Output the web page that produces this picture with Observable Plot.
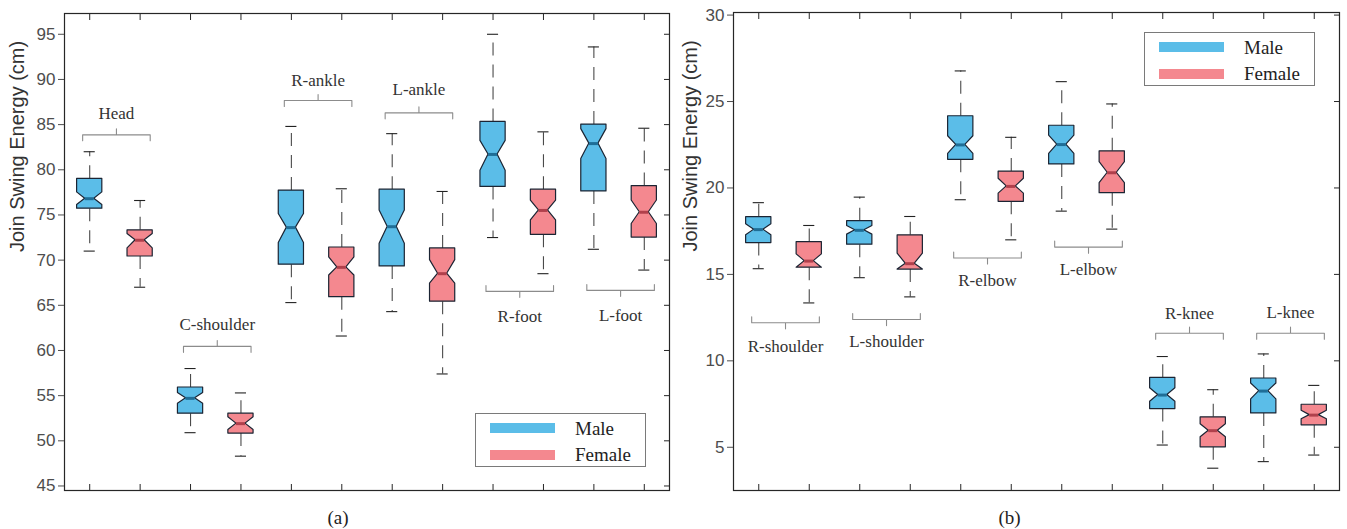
<!DOCTYPE html>
<html>
<head>
<meta charset="utf-8">
<script src="https://cdn.jsdelivr.net/npm/d3@7"></script>
<script src="https://cdn.jsdelivr.net/npm/@observablehq/plot@0.6"></script>
<style>
  body { margin: 0; background: #fff; }
  #wrap { position: relative; width: 1347px; height: 529px; overflow: hidden; }
  #wrap svg { position: absolute; top: 0; }
  .legend { position: absolute; box-sizing: border-box; width: 171px; height: 54px; border: 1px solid #7a7a7a; background: #fff; }
  .legend .sw { position: absolute; left: 14px; width: 65px; height: 10px; }
  .legend .lt { position: absolute; left: 99px; font: 19px "Liberation Serif", "Times New Roman", serif; color: #222; line-height: 20px; }
  .cap { position: absolute; top: 507px; font: 19px "Liberation Serif", "Times New Roman", serif; color: #222; text-align: center; line-height: 22px; }
</style>
</head>
<body>
<div id="wrap"></div>
<script>
// ---------- data ----------
const genders = ["Male", "Female"];
const genderFill = ["#5bbde8", "#f4888f"];
const genderMedian = ["#1f6e97", "#b0404c"];

// Panel (a)
const partsA = ["Head", "C-shoulder", "R-ankle", "L-ankle", "R-foot", "L-foot"];
const maxA = [82.0, 76.6, 58.0, 55.3, 84.8, 77.9, 84.0, 77.6, 95.0, 84.2, 93.6, 84.6];
const q3A  = [79.0, 73.3, 55.9, 53.0, 77.7, 71.4, 77.8, 71.3, 85.3, 77.8, 85.0, 78.2];
const nhiA = [77.5, 72.9, 55.3, 52.6, 75.1, 70.3, 75.5, 70.0, 83.2, 76.6, 84.5, 76.6];
const medA = [76.8, 72.2, 54.7, 51.9, 73.6, 69.2, 73.7, 68.5, 81.7, 75.5, 82.9, 75.3];
const nloA = [76.1, 71.3, 54.1, 51.2, 71.9, 68.3, 71.8, 67.4, 79.9, 74.4, 81.2, 74.0];
const q1A  = [75.7, 70.4, 53.0, 50.8, 69.5, 65.9, 69.3, 65.4, 78.1, 72.8, 77.6, 72.5];
const minA = [71.0, 67.0, 50.9, 48.3, 65.3, 61.6, 64.3, 57.4, 72.5, 68.5, 71.2, 68.9];
const bracketLevelA = [83.87, 60.45, 87.67, 86.3, 66.54, 66.65];
const labelYA = [86.28, 62.82, 89.92, 88.93, 63.74, 63.82];
const ticksA = [45, 50, 55, 60, 65, 70, 75, 80, 85, 90, 95];

// Panel (b)
const partsB = ["R-shoulder", "L-shoulder", "R-elbow", "L-elbow", "R-knee", "L-knee"];
const maxB = [19.15, 17.83, 19.47, 18.35, 26.77, 22.93, 26.15, 24.86, 10.25, 8.33, 10.4, 8.58];
const q3B  = [18.31, 16.87, 18.08, 17.26, 24.15, 20.95, 23.6, 22.12, 9.02, 6.73, 8.98, 7.46];
const nhiB = [17.9, 16.16, 17.8, 16.2, 22.99, 20.53, 23.03, 21.49, 8.41, 6.33, 8.69, 7.11];
const medB = [17.59, 15.77, 17.55, 15.62, 22.49, 20.09, 22.51, 20.88, 8.02, 5.96, 8.25, 6.86];
const nloB = [17.26, 15.39, 17.3, 15.28, 21.97, 19.67, 21.97, 20.28, 7.63, 5.58, 7.77, 6.62];
const q1B  = [16.81, 15.39, 16.72, 15.28, 21.63, 19.2, 21.36, 19.7, 7.21, 5.0, 6.96, 6.27];
const minB = [15.33, 13.35, 14.81, 13.7, 19.32, 17.0, 18.66, 17.62, 5.13, 3.79, 4.17, 4.55];
const bracketLevelB = [12.2, 12.39, 15.95, 16.58, 11.6, 11.6];
const labelYB = [10.83, 11.09, 14.62, 15.26, 12.76, 12.79];
const ticksB = [5, 10, 15, 20, 25, 30];

const positions = d3.range(1, 13);
const yLabel = "Join Swing Energy (cm)";

// ---------- helpers ----------
const BOX_W = 0.25, NOTCH_W = 0.09, CAP_W = 0.11;

function boxes(parts, max, q3, nhi, med, nlo, q1, min) {
  return max.map((_, i) => ({
    pos: positions[i], g: i % 2, part: parts[i >> 1],
    max: max[i], q3: q3[i], nhi: Math.min(nhi[i], q3[i]), med: med[i],
    nlo: Math.max(nlo[i], q1[i]), q1: q1[i], min: min[i]
  }));
}
function outline(bx) {
  const rows = [];
  for (const b of bx) {
    [[b.q1, BOX_W], [b.nlo, BOX_W], [b.med, NOTCH_W], [b.nhi, BOX_W], [b.q3, BOX_W]]
      .forEach(([y, hw]) => rows.push({pos: b.pos, g: b.g, y, hw}));
  }
  return rows;
}
function brackets(parts, levels, labelYs, t) {
  const rows = [], labels = [];
  parts.forEach((p, k) => {
    const p1 = positions[2 * k], p2 = positions[2 * k + 1];
    const x1 = p1 - 0.14, x2 = p2 + 0.2, xm = (x1 + x2) / 2;
    const lv = levels[k], s = Math.sign(labelYs[k] - lv);
    [[x1, lv - s * t], [x1, lv], [xm, lv], [xm, lv + s * t], [xm, lv], [x2, lv], [x2, lv - s * t]]
      .forEach(([x, y]) => rows.push({k, x, y}));
    labels.push({text: p, x: xm, y: labelYs[k]});
  });
  return {rows, labels};
}

function panel({parts, max, q3, nhi, med, nlo, q1, min, levels, labelYs, ticks, domain, t, width, marginLeft, marginRight, marginTop, labelDx}) {
  const bx = boxes(parts, max, q3, nhi, med, nlo, q1, min);
  const br = brackets(parts, levels, labelYs, t);
  return Plot.plot({
    width, height: 529, marginLeft, marginRight, marginTop, marginBottom: 39,
    style: {fontFamily: "'Liberation Sans', Arial, sans-serif", fontSize: "17px", background: "#fff"},
    x: {domain: [0.5, 12.5]},
    y: {domain},
    color: {type: "identity"},
    marks: [
      Plot.frame({stroke: "#262626", strokeWidth: 1.2}),
      Plot.axisY(ticks, {anchor: "left", tickSize: 6, tickPadding: 3, fontSize: 17, color: "#4d4d4d", label: null}),
      Plot.text([yLabel], {frameAnchor: "left", rotate: -90, dx: labelDx, fontSize: 20, fill: "#333",
        fontFamily: "'Liberation Sans', Arial, sans-serif"}),
      Plot.axisY(ticks, {anchor: "right", tickSize: -6, tickFormat: () => "", label: null, stroke: "#262626"}),
      Plot.axisX(positions, {anchor: "bottom", tickSize: -6, tickFormat: () => "", label: null, stroke: "#262626"}),
      Plot.axisX(positions, {anchor: "top", tickSize: -6, tickFormat: () => "", label: null, stroke: "#262626"}),
      // whiskers
      Plot.ruleX(bx, {x: "pos", y1: "q3", y2: "max", stroke: "#4a4a4a", strokeWidth: 1.1, strokeDasharray: "13,9"}),
      Plot.ruleX(bx, {x: "pos", y1: "q1", y2: "min", stroke: "#4a4a4a", strokeWidth: 1.1, strokeDasharray: "13,9"}),
      Plot.ruleY(bx, {y: "max", x1: d => d.pos - CAP_W, x2: d => d.pos + CAP_W, stroke: "#222", strokeWidth: 1.1}),
      Plot.ruleY(bx, {y: "min", x1: d => d.pos - CAP_W, x2: d => d.pos + CAP_W, stroke: "#222", strokeWidth: 1.1}),
      // notched boxes
      Plot.areaX(outline(bx), {y: "y", x1: d => d.pos - d.hw, x2: d => d.pos + d.hw, z: "pos",
        fill: d => genderFill[d.g], stroke: "#1b2433", strokeWidth: 1.2, curve: "linear"}),
      Plot.ruleY(bx, {y: "med", x1: d => d.pos - NOTCH_W, x2: d => d.pos + NOTCH_W,
        stroke: d => genderMedian[d.g], strokeWidth: 3}),
      // brackets & labels
      Plot.line(br.rows, {x: "x", y: "y", z: "k", stroke: "#8c8c8c", strokeWidth: 1.1, curve: "linear"}),
      Plot.text(br.labels, {x: "x", y: "y", text: "text", fontFamily: "'Liberation Serif', 'Times New Roman', serif",
        fontSize: 17, fill: "#333"})
    ]
  });
}

const wrap = document.getElementById("wrap");
const svgA = panel({parts: partsA, max: maxA, q3: q3A, nhi: nhiA, med: medA, nlo: nloA, q1: q1A, min: minA,
  levels: bracketLevelA, labelYs: labelYA, ticks: ticksA, domain: [44.5, 97.3], t: 0.66,
  width: 676, marginLeft: 64, marginRight: 7, marginTop: 13, labelDx: -47});
const svgB = panel({parts: partsB, max: maxB, q3: q3B, nhi: nhiB, med: medB, nlo: nloB, q1: q1B, min: minB,
  levels: bracketLevelB, labelYs: labelYB, ticks: ticksB, domain: [2.5, 30.15], t: 0.35,
  width: 675, marginLeft: 61, marginRight: 8, marginTop: 12, labelDx: -43});
svgA.style.left = "0px";
svgB.style.left = "672px";
wrap.appendChild(svgA);
wrap.appendChild(svgB);

// legends
function legend(left, top) {
  const div = document.createElement("div");
  div.className = "legend";
  div.style.left = left + "px";
  div.style.top = top + "px";
  genders.forEach((g, i) => {
    const sw = document.createElement("div");
    sw.className = "sw";
    sw.style.top = (9 + i * 27) + "px";
    sw.style.background = genderFill[i];
    const tx = document.createElement("div");
    tx.className = "lt";
    tx.style.top = (4.5 + i * 26) + "px";
    tx.textContent = g;
    div.appendChild(sw);
    div.appendChild(tx);
  });
  wrap.appendChild(div);
}
legend(475, 413);
legend(1144, 32);

// captions
[["(a)", 0, 676], ["(b)", 672, 675]].forEach(([t, l, w]) => {
  const c = document.createElement("div");
  c.className = "cap";
  c.style.left = l + "px";
  c.style.width = w + "px";
  c.textContent = t;
  wrap.appendChild(c);
});
</script>
</body>
</html>
